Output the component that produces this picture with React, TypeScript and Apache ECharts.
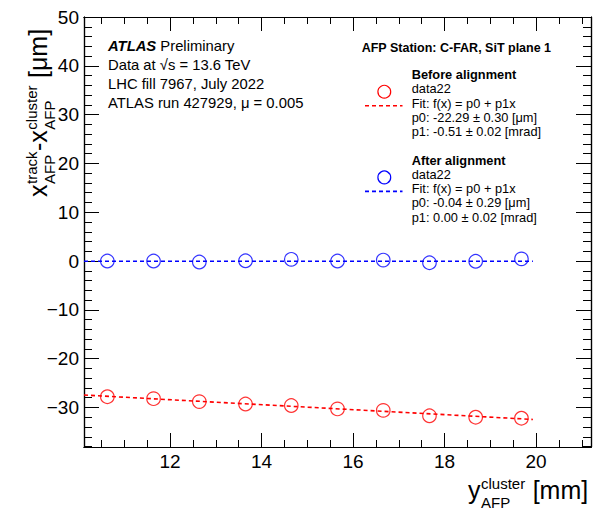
import React, { useEffect, useRef } from "react";
import * as echarts from "echarts";

// ---- data ----
const xValues = [10.63, 11.64, 12.64, 13.65, 14.65, 15.66, 16.66, 17.67, 18.68, 19.68];
const beforeValues = [-27.8, -28.2, -28.8, -29.3, -29.6, -30.3, -30.6, -31.7, -32.0, -32.2];
const afterValues = [0.0, 0.0, -0.2, 0.05, 0.35, 0.0, 0.2, -0.35, -0.05, 0.45];
const beforeFit = { p0: -22.29, p1: -0.51 };
const afterFit = { p0: -0.04, p1: 0.0 };
const fitRange = [10.12, 19.93];

const xMajorTicks = [12, 14, 16, 18, 20];
const xMinorTicks = [10.5, 11, 11.5, 12, 12.5, 13, 13.5, 14, 14.5, 15, 15.5, 16, 16.5, 17, 17.5, 18, 18.5, 19, 19.5, 20, 20.5, 21];
const yMajorTicks = [-30, -20, -10, 0, 10, 20, 30, 40, 50];
const yMinorTicks = [-38, -36, -34, -32, -30, -28, -26, -24, -22, -20, -18, -16, -14, -12, -10, -8, -6, -4, -2, 0, 2, 4, 6, 8, 10, 12, 14, 16, 18, 20, 22, 24, 26, 28, 30, 32, 34, 36, 38, 40, 42, 44, 46, 48, 50];

const atlasLines = ["Data at \u221As = 13.6 TeV", "LHC fill 7967, July 2022", "ATLAS run 427929, \u03bc = 0.005"];
const stationLabel = "AFP Station: C-FAR, SiT plane 1";
const beforeLegend = ["data22", "Fit: f(x) = p0 + p1x", "p0: -22.29 \u00b1 0.30 [\u03bcm]", "p1: -0.51 \u00b1 0.02 [mrad]"];
const afterLegend = ["data22", "Fit: f(x) = p0 + p1x", "p0: -0.04 \u00b1 0.29 [\u03bcm]", "p1: 0.00 \u00b1 0.02 [mrad]"];

const X_MIN = 10.12;
const X_MAX = 21.2;
const Y_MIN = -38.1;
const Y_MAX = 50;

const FONT = "'Liberation Sans', Arial, Helvetica, sans-serif";
const RED = "#ff0000";
const BLUE = "#0000ff";

let ctx: CanvasRenderingContext2D | null = null;
function tw(s: string, size: number, weight = "normal"): number {
  if (!ctx) ctx = document.createElement("canvas").getContext("2d");
  if (!ctx) return s.length * size * 0.5;
  ctx.font = `${weight} ${size}px 'Liberation Sans', Arial, sans-serif`;
  return ctx.measureText(s).width;
}

// text positioned by baseline
function txt(str: string, x: number, baseline: number, size: number, extra: any = {}) {
  return {
    type: "text",
    x,
    y: baseline - 0.35 * size,
    style: {
      text: str,
      fontSize: size,
      fontFamily: FONT,
      fill: "#000",
      align: "left",
      textAlign: "left",
      verticalAlign: "middle",
      textVerticalAlign: "middle",
      ...extra,
    },
  };
}

// builds "x^sup_sub" style title pieces along a horizontal baseline
function latexTitle(parts: { t: string; sup?: string; sub?: string }[], S: number, s: number, subShift: number) {
  const children: any[] = [];
  let cur = 0;
  for (const p of parts) {
    if (p.t) {
      children.push(txt(p.t, cur, 0, S));
      cur += tw(p.t, S);
    }
    if (p.sup || p.sub) {
      cur += 0.5;
      let w = 0;
      if (p.sup) {
        children.push(txt(p.sup, cur, -0.42 * S, s));
        w = Math.max(w, tw(p.sup, s));
      }
      if (p.sub) {
        children.push(txt(p.sub, cur, subShift * S, s));
        w = Math.max(w, tw(p.sub, s));
      }
      cur += w + 0.5;
    }
  }
  return children;
}

function legendBlock(title: string, lines: string[], color: string, top: number) {
  const els: any[] = [];
  const tx = 411.7;
  els.push(txt(title, tx, top, 12.8, { fontWeight: "bold" }));
  lines.forEach((l, i) => els.push(txt(l, tx, top + 14 + i * 14.2, 12.8)));
  els.push({
    type: "circle",
    shape: { cx: 384.3, cy: top + 12.4, r: 6.4 },
    style: { fill: "none", stroke: color, lineWidth: 1.2 },
  });
  els.push({
    type: "line",
    shape: { x1: 365, y1: top + 26.4, x2: 402.5, y2: top + 26.4 },
    style: { stroke: color, lineWidth: 1.6, lineDash: [4, 3] },
  });
  return els;
}

const fmt = (v: number) => (v < 0 ? "\u2212" + Math.abs(v) : String(v));

export default function App() {
  const ref = useRef<HTMLDivElement>(null);
  useEffect(() => {
    if (!ref.current) return;
    const chart = echarts.init(ref.current, null, { renderer: "svg" });

    const axisLineStyle = { color: "#000", width: 1.2 };
    const tickStyle = { color: "#000", width: 1 };
    const xAx = (pos: string, major: boolean, labels: boolean) => ({
      type: "value",
      position: pos,
      min: X_MIN,
      max: X_MAX,
      axisLine: { show: true, onZero: false, lineStyle: axisLineStyle },
      axisTick: { show: true, inside: true, length: major ? 14 : 7, customValues: major ? xMajorTicks : xMinorTicks, lineStyle: tickStyle },
      axisLabel: { show: labels, customValues: xMajorTicks, fontSize: 19, fontFamily: FONT, color: "#000", margin: 5 },
      splitLine: { show: false },
    });
    const yAx = (pos: string, major: boolean, labels: boolean) => ({
      type: "value",
      position: pos,
      min: Y_MIN,
      max: Y_MAX,
      axisLine: { show: true, onZero: false, lineStyle: axisLineStyle },
      axisTick: { show: true, inside: true, length: major ? 15 : 8, customValues: major ? yMajorTicks : yMinorTicks, lineStyle: tickStyle },
      axisLabel: { show: labels, customValues: yMajorTicks, fontSize: 19, fontFamily: FONT, color: "#000", margin: 5, formatter: fmt },
      splitLine: { show: false },
    });

    const fitLine = (f: { p0: number; p1: number }) => fitRange.map((x) => [x, f.p0 + f.p1 * x]);

    const yTitle = latexTitle(
      [
        { t: "x", sup: "track", sub: "AFP" },
        { t: "-x", sup: "cluster", sub: "AFP" },
        { t: " [\u03bcm]" },
      ],
      25,
      15,
      0.32
    );
    const xTitle = latexTitle([{ t: "y", sup: "cluster", sub: "AFP" }, { t: " [mm]" }], 25, 15, 0.34);

    const graphics: any[] = [
      { type: "group", x: 47, y: 197, rotation: Math.PI / 2, children: yTitle },
      { type: "group", x: 468, y: 499, children: xTitle },
      {
        ...txt("{b|ATLAS} Preliminary", 108, 51.5, 14.8),
        style: {
          text: "{b|ATLAS} Preliminary",
          fontSize: 14.8,
          fontFamily: FONT,
          fill: "#000",
          align: "left",
          textAlign: "left",
          verticalAlign: "middle",
          textVerticalAlign: "middle",
          rich: { b: { fontSize: 14.8, fontFamily: FONT, fontWeight: "bold", fontStyle: "italic", fill: "#000" } },
        },
      },
      ...atlasLines.map((l, i) => txt(l, 108, 70.5 + i * 19, 14.8)),
      txt(stationLabel, 361.7, 52.7, 12.5, { fontWeight: "bold" }),
      ...legendBlock("Before alignment", beforeLegend, RED, 79.3),
      ...legendBlock("After alignment", afterLegend, BLUE, 165),
    ];

    chart.setOption({
      animation: false,
      grid: { left: 84, right: 2, top: 17, bottom: 65, containLabel: false },
      xAxis: [xAx("bottom", true, true), xAx("bottom", false, false), xAx("top", true, false), xAx("top", false, false)],
      yAxis: [yAx("left", true, true), yAx("left", false, false), yAx("right", true, false), yAx("right", false, false)],
      series: [
        {
          type: "line",
          data: fitLine(beforeFit),
          showSymbol: false,
          symbol: "none",
          lineStyle: { color: RED, width: 1.6, type: [4, 3] },
          z: 2,
        },
        {
          type: "line",
          data: fitLine(afterFit),
          showSymbol: false,
          symbol: "none",
          lineStyle: { color: BLUE, width: 1.6, type: [4, 3] },
          z: 2,
        },
        {
          type: "scatter",
          data: xValues.map((x, i) => [x, beforeValues[i]]),
          symbol: "circle",
          symbolSize: 13.5,
          itemStyle: { color: "rgba(0,0,0,0)", borderColor: RED, borderWidth: 1.2 },
          z: 3,
        },
        {
          type: "scatter",
          data: xValues.map((x, i) => [x, afterValues[i]]),
          symbol: "circle",
          symbolSize: 13.5,
          itemStyle: { color: "rgba(0,0,0,0)", borderColor: BLUE, borderWidth: 1.2 },
          z: 3,
        },
      ],
      graphic: graphics,
    });
    return () => chart.dispose();
  }, []);
  return (
    <div
      ref={ref}
      style={{ position: "fixed", left: 0, top: 0, width: 593, height: 512, background: "#fff" }}
    />
  );
}
